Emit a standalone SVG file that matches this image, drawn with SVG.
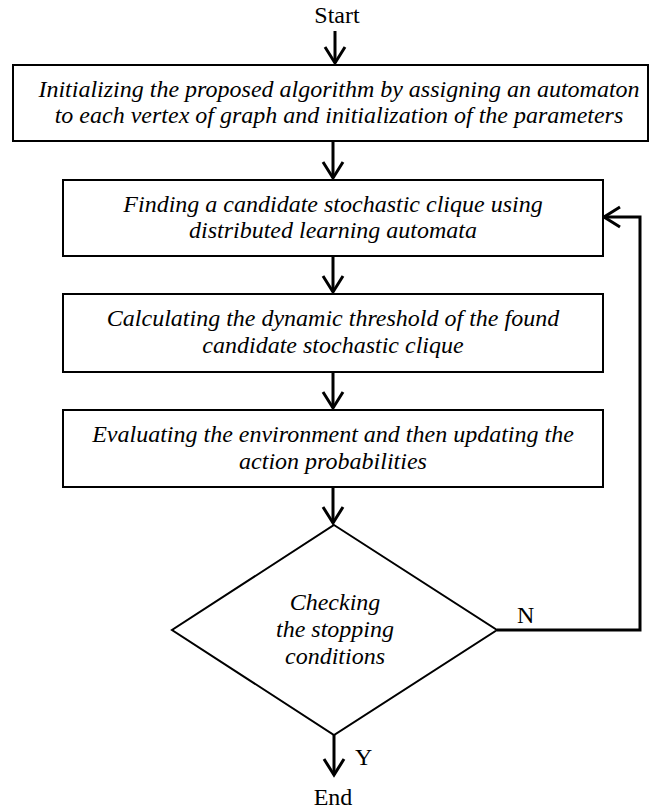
<svg xmlns="http://www.w3.org/2000/svg" width="649" height="812" viewBox="0 0 649 812">
<defs>
<marker id="ah" markerUnits="userSpaceOnUse" markerWidth="30" markerHeight="30" refX="0" refY="0" viewBox="-20 -15 30 30" orient="auto" overflow="visible">
<path d="M-16,-10 L0,0 L-16,10" fill="none" stroke="#000" stroke-width="3"/>
</marker>
<style>
.box{fill:#fff;stroke:#000;stroke-width:2}
.t{font-family:"Liberation Serif","Times New Roman",serif;font-style:italic;font-size:24px;fill:#000;text-anchor:middle}
.l{font-family:"Liberation Serif","Times New Roman",serif;font-size:24px;fill:#000}
.c{fill:none;stroke:#000;stroke-width:3;marker-end:url(#ah)}
</style>
</defs>
<rect width="649" height="812" fill="#fff"/>
<g id="connectors">
<path class="c" d="M335,31 V63"/>
<path class="c" d="M333,141 V178"/>
<path class="c" d="M333,256 V292"/>
<path class="c" d="M333,372 V408"/>
<path class="c" d="M333,487 V523"/>
<path class="c" d="M334,735 V775"/>
<path class="c" d="M497,630 H640 V217 H604"/>
</g>
<g id="start"><text class="l" x="337" y="23" text-anchor="middle">Start</text></g>
<g id="init">
<rect class="box" x="13" y="65" width="635" height="76"/>
<text class="t" x="339" y="97">Initializing the proposed algorithm by assigning an automaton</text>
<text class="t" x="339" y="123">to each vertex of graph and initialization of the parameters</text>
</g>
<g id="find">
<rect class="box" x="63" y="180" width="540" height="76"/>
<text class="t" x="333" y="212">Finding a candidate stochastic clique using</text>
<text class="t" x="333" y="238">distributed learning automata</text>
</g>
<g id="calc">
<rect class="box" x="63" y="294" width="540" height="78"/>
<text class="t" x="333" y="326">Calculating the dynamic threshold of the found</text>
<text class="t" x="333" y="353">candidate stochastic clique</text>
</g>
<g id="eval">
<rect class="box" x="63" y="410" width="540" height="77"/>
<text class="t" x="333" y="442">Evaluating the environment and then updating the</text>
<text class="t" x="333" y="469">action probabilities</text>
</g>
<g id="check">
<polygon class="box" points="334,525 497,630 334,735 172,630"/>
<text class="t" x="335" y="610">Checking</text>
<text class="t" x="335" y="637">the stopping</text>
<text class="t" x="335" y="664">conditions</text>
</g>
<g id="labels">
<text class="l" x="517" y="623">N</text>
<text class="l" x="355" y="765">Y</text>
<text class="l" x="333" y="805" text-anchor="middle">End</text>
</g>
</svg>
